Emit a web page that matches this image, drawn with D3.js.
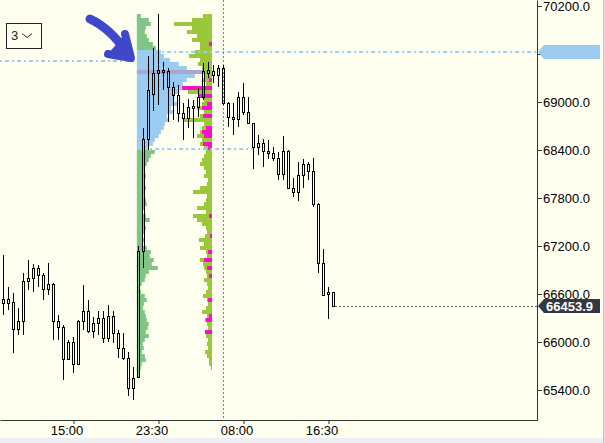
<!DOCTYPE html>
<html>
<head>
<meta charset="utf-8">
<script src="https://cdn.jsdelivr.net/npm/d3@7"></script>
<style>
html, body { margin: 0; padding: 0; background: #FFFFF0; overflow: hidden; }
svg { display: block; font-family: "Liberation Sans", Arial, sans-serif; }
</style>
</head>
<body>
<svg id="chart" width="605" height="443"></svg>
<script>
// bars, 30 minutes each, first one starts at 07:30
var firstBar = new Date(2024, 2, 20, 7, 30);
var barMinutes = 30;
var opens = [65925, 66487.5, 66537.5, 66500, 66162.5, 66262.5, 66762.5, 66800, 66925, 66837.5,
    66662.5, 66725, 66262.5, 66187.5, 65787.5, 66000, 65725, 66262.5, 66387.5, 66137.5,
    66237.5, 66300, 66050, 66325, 66112.5, 65925, 65800, 65425, 65562.5, 67137.5,
    68537.5, 69100, 69362.5, 69400, 69387.5, 69187.5, 69087.5, 68862.5, 68800, 68925,
    68937.5, 69062.5, 69362.5, 69387.5, 69337.5, 69425, 68987.5, 68812.5, 68787.5, 69062.5,
    68875, 68737.5, 68437.5, 68487.5, 68387.5, 68362.5, 68300, 68100, 68387.5, 67925,
    67875, 68087.5, 68225, 68137.5, 67725, 66987.5, 66600, 66625];
var highs = [66775, 67087.5, 66687.5, 66612.5, 66425, 66862.5, 67025, 66975, 66962.5, 66862.5,
    66987.5, 66737.5, 66337.5, 66212.5, 66025, 66062.5, 66275, 66712.5, 66525, 66312.5,
    66387.5, 66387.5, 66462.5, 66387.5, 66150, 66112.5, 65875, 65687.5, 67200, 68675,
    69575, 69675, 70100, 69500, 69425, 69250, 69212.5, 68987.5, 69037.5, 69025,
    69175, 69487.5, 69500, 69462.5, 69462.5, 69462.5, 69000, 68987.5, 69125, 69237.5,
    69062.5, 68737.5, 68587.5, 68537.5, 68525, 68437.5, 68375, 68575, 68400, 68050,
    68250, 68287.5, 68250, 68300, 67737.5, 67162.5, 66687.5, 66625];
var lows = [65900, 66337.5, 66400, 65862.5, 66087.5, 66087.5, 66650, 66625, 66687.5, 66525,
    66587.5, 66025, 66025, 65525, 65775, 65612.5, 65712.5, 66150, 66112.5, 66050,
    66087.5, 65987.5, 66000, 65987.5, 65800, 65775, 65325, 65275, 65550, 66925,
    68400, 68887.5, 68962.5, 69150, 68750, 68775, 68750, 68525, 68675, 68550,
    68812.5, 69025, 69300, 69237.5, 69187.5, 68962.5, 68687.5, 68587.5, 68687.5, 68837.5,
    68737.5, 68162.5, 68337.5, 68187.5, 68287.5, 68262.5, 68025, 68025, 67925, 67812.5,
    67762.5, 67925, 68025, 67687.5, 66862.5, 66587.5, 66287.5, 66437.5];
var closes = [66487.5, 66537.5, 66487.5, 66162.5, 66262.5, 66762.5, 66800, 66925, 66837.5, 66662.5,
    66725, 66262.5, 66187.5, 65787.5, 66000, 65725, 66262.5, 66387.5, 66137.5, 66237.5,
    66300, 66050, 66325, 66112.5, 65925, 65800, 65425, 65550, 67137.5, 68537.5,
    69150, 69362.5, 69400, 69375, 69187.5, 69087.5, 68862.5, 68800, 68937.5, 68950,
    69062.5, 69387.5, 69400, 69337.5, 69425, 68987.5, 68812.5, 68787.5, 69062.5, 68875,
    68737.5, 68437.5, 68487.5, 68387.5, 68362.5, 68300, 68100, 68387.5, 67925, 67875,
    68087.5, 68225, 68137.5, 67725, 66987.5, 66587.5, 66625, 66453.9];
var lastPrice = 66453.9;

// volume profiles, rows of 50 points from 70100 down
var rowTop = 70100;
var rowStep = 50;
var profile1Vol = [4, 12, 14, 9, 8, 10, 12, 16, 19, 24,
    27, 33, 42, 50, 74, 58, 50, 46, 45, 42,
    38, 36, 40, 34, 36, 30, 32, 28, 27, 24,
    22, 18, 16, 12, 18, 14, 12, 10, 8, 7,
    9, 8, 7, 9, 8, 7, 9, 10, 8, 6,
    9, 13, 8, 9, 7, 6, 8, 6, 10, 14,
    13, 17, 15, 21, 12, 9, 8, 5, 3, 4,
    8, 10, 7, 6, 8, 9, 10, 12, 11, 9,
    12, 8, 6, 7, 5, 8, 9, 5, 4, 3, 2, 0];
var profile2Vol = [9, 20, 38, 20, 25, 15, 20, 12, 12, 17,
    23, 12, 14, 10, 8, 7, 10, 6, 30, 24,
    14, 8, 10, 15, 8, 12, 28, 8, 10, 12,
    15, 10, 12, 8, 6, 8, 10, 12, 8, 6,
    8, 4, 5, 12, 19, 5, 6, 8, 15, 6,
    19, 15, 10, 6, 5, 7, 13, 8, 12, 6,
    5, 12, 9, 8, 6, 5, 8, 5, 4, 6,
    9, 5, 4, 6, 10, 5, 7, 5, 4, 7,
    6, 4, 5, 4, 7, 5, 3, 3, 1, 0, 0, 0];
var profile2Sell = [0, 0, 0, 0, 0, 0, 0, 3, 0, 0,
    0, 0, 0, 0, 0, 0, 3, 0, 30, 0,
    14, 0, 5, 10, 0, 9, 0, 0, 6, 10,
    8, 0, 9, 4, 0, 0, 0, 0, 0, 0,
    0, 0, 0, 0, 0, 0, 0, 0, 0, 0,
    3, 0, 0, 0, 0, 2, 0, 0, 0, 4,
    0, 8, 0, 5, 0, 3, 0, 0, 0, 0,
    0, 4, 0, 0, 0, 3, 6, 0, 0, 7,
    0, 0, 0, 0, 0, 0, 0, 0, 0, 0, 0, 0];
var valueArea = [68400, 69650];
var pocPrice = 69400;
var profile1Start = new Date(2024, 2, 20, 21, 20);
var profile2End = new Date(2024, 2, 21, 4, 51);

// horizontal levels
var prevHighLevel = 69512.5;
var vahLevel = 69625;
var valLevel = 68412.5;
var levelStart = new Date(2024, 2, 20, 22, 40);
var valEnd = new Date(2024, 2, 21, 9, 0);
var sessionTime = new Date(2024, 2, 21, 6, 0);

// axes
var timeTicks = [new Date(2024, 2, 20, 15, 0), new Date(2024, 2, 20, 23, 30),
    new Date(2024, 2, 21, 8, 0), new Date(2024, 2, 21, 16, 30)];
var priceTicks = [65400, 66000, 66600, 67200, 67800, 68400, 69000, 69600, 70200];

var attrs = { width: 605, height: 443, plotW: 537, plotH: 420 };

var bars = opens.map(function (o, i) {
    return {
        t: new Date(firstBar.getTime() + i * barMinutes * 60000),
        o: o, h: highs[i], l: lows[i], c: closes[i]
    };
});
var levels = profile1Vol.map(function (v, i) { return rowTop - i * rowStep; });

var x = d3.scaleTime()
    .domain([new Date(2024, 2, 20, 7, 39), new Date(2024, 2, 22, 13, 21)])
    .range([0, attrs.plotW]);
var y = d3.scaleLinear()
    .domain([65025, 70275])
    .range([attrs.plotH, 0]);
var w = d3.scaleLinear()
    .domain([0, 74])
    .range([0, 74]);

var svg = d3.select("#chart");
svg.append("rect")
    .attr("width", attrs.width)
    .attr("height", attrs.height)
    .attr("fill", "#FFFFF0");
svg.append("rect")
    .attr("y", 438)
    .attr("width", attrs.width)
    .attr("height", 5)
    .attr("fill", "#EDEFF5");
svg.append("line")
    .attr("x1", 603.5).attr("x2", 603.5)
    .attr("y1", 0).attr("y2", attrs.height)
    .attr("stroke", "#A9C3E6");
svg.append("rect")
    .attr("x", 604)
    .attr("width", 1)
    .attr("height", attrs.height)
    .attr("fill", "#E4E8EF");

svg.append("clipPath").attr("id", "plotClip")
    .append("rect")
    .attr("width", attrs.plotW)
    .attr("height", attrs.plotH);
var plot = svg.append("g").attr("clip-path", "url(#plotClip)");

//profile 1, anchored left
var p1x = x(profile1Start);
plot.append("g").selectAll("rect")
    .data(levels)
    .enter()
    .append("rect")
    .attr("x", p1x)
    .attr("y", function (d) { return y(d); })
    .attr("width", function (d, i) { return w(profile1Vol[i]); })
    .attr("height", function (d) { return y(d - rowStep) - y(d); })
    .attr("fill", function (d) {
        if (d === pocPrice) return "#ABA6CF";
        return (d <= valueArea[1] && d - rowStep >= valueArea[0]) ? "#99CCF0" : "#80C585";
    });

//profile 2, anchored right
var p2x = x(profile2End);
var p2 = plot.append("g");
p2.selectAll("rect.vol")
    .data(levels)
    .enter()
    .append("rect")
    .attr("class", "vol")
    .attr("x", function (d, i) { return p2x - w(profile2Vol[i]); })
    .attr("y", function (d) { return y(d); })
    .attr("width", function (d, i) { return w(profile2Vol[i]); })
    .attr("height", function (d) { return y(d - rowStep) - y(d); })
    .attr("fill", "#9BC83B");
p2.selectAll("rect.sell")
    .data(levels)
    .enter()
    .append("rect")
    .attr("class", "sell")
    .attr("x", function (d, i) { return p2x - w(profile2Sell[i]); })
    .attr("y", function (d) { return y(d); })
    .attr("width", function (d, i) { return w(profile2Sell[i]); })
    .attr("height", function (d) { return y(d - rowStep) - y(d); })
    .attr("fill", "#FF10C8");

//levels
var levelLine = function (v, t0, t1) {
    plot.append("line")
        .attr("x1", x(t0)).attr("x2", x(t1))
        .attr("y1", Math.round(y(v))).attr("y2", Math.round(y(v)))
        .attr("stroke", "#9BCDF0")
        .attr("stroke-width", 2)
        .attr("stroke-dasharray", "2,3,4,3");
};
levelLine(prevHighLevel, x.domain()[0], profile1Start);
levelLine(vahLevel, levelStart, x.domain()[1]);
levelLine(valLevel, levelStart, valEnd);

plot.append("line")
    .attr("x1", Math.floor(x(sessionTime)) + 0.5).attr("x2", Math.floor(x(sessionTime)) + 0.5)
    .attr("y1", 0).attr("y2", attrs.plotH)
    .attr("stroke", "#5A7ED4")
    .attr("stroke-dasharray", "2,2");

//candles
var candle = plot.append("g").selectAll("g")
    .data(bars)
    .enter()
    .append("g");
candle.append("path")
    .attr("d", function (d) {
        var cx = Math.floor(x(d.t)) + 0.5;
        var top = Math.round(y(Math.max(d.o, d.c)));
        var bot = Math.max(Math.round(y(Math.min(d.o, d.c))), top + 1);
        return "M" + cx + "," + Math.round(y(d.h)) + "V" + top + "M" + cx + "," + bot + "V" + Math.round(y(d.l));
    })
    .attr("stroke", "#000")
    .attr("fill", "none");
candle.append("rect")
    .attr("x", function (d) { return Math.floor(x(d.t)) - 0.5; })
    .attr("y", function (d) { return Math.round(y(Math.max(d.o, d.c))) + 0.5; })
    .attr("width", 2)
    .attr("height", function (d) {
        var top = Math.round(y(Math.max(d.o, d.c)));
        return Math.max(Math.round(y(Math.min(d.o, d.c))) - top, 1);
    })
    .attr("stroke", "#000")
    .attr("fill", "none");

plot.append("line")
    .attr("x1", Math.floor(x(bars[bars.length - 1].t)) + 2)
    .attr("x2", attrs.plotW)
    .attr("y1", Math.round(y(lastPrice)) + 0.5).attr("y2", Math.round(y(lastPrice)) + 0.5)
    .attr("stroke", "#555")
    .attr("stroke-dasharray", "2,2");

//axes
var yAxis = svg.append("g")
    .attr("transform", "translate(" + attrs.plotW + ",0)")
    .call(d3.axisRight(y)
        .tickValues(priceTicks)
        .tickFormat(d3.format(".1f"))
        .tickSize(5)
        .tickSizeOuter(0)
        .tickPadding(1));
var xAxis = svg.append("g")
    .attr("transform", "translate(0," + attrs.plotH + ")")
    .call(d3.axisBottom(x)
        .tickValues(timeTicks)
        .tickFormat(d3.timeFormat("%H:%M"))
        .tickSize(4)
        .tickSizeOuter(0)
        .tickPadding(2));
[yAxis, xAxis].forEach(function (a) {
    a.attr("font-family", "Liberation Sans, Arial, sans-serif")
        .attr("font-size", 13);
    a.selectAll("path, line").attr("stroke", "#333");
    a.selectAll("text").attr("fill", "#000");
});
xAxis.selectAll("text").attr("dx", -7);

//price markers
var marker = function (v, fill, half) {
    var my = Math.round(y(v));
    svg.append("path")
        .attr("d", "M" + (attrs.plotW + 1) + "," + my + "L" + (attrs.plotW + 7) + "," + (my - half) +
            "H600V" + (my + half) + "H" + (attrs.plotW + 7) + "Z")
        .attr("fill", fill);
    return my;
};
marker(vahLevel, "#99CCF0", 7);
var ly = marker(lastPrice, "#333844", 7);
svg.append("text")
    .attr("x", 546)
    .attr("y", ly + 5)
    .attr("font-size", 13)
    .attr("font-weight", "bold")
    .attr("fill", "#fff")
    .text(d3.format(".1f")(lastPrice));

//period selector box
svg.append("rect")
    .attr("x", 6.5).attr("y", 23.5)
    .attr("width", 35).attr("height", 25)
    .attr("fill", "none")
    .attr("stroke", "#222");
svg.append("text")
    .attr("x", 11).attr("y", 40)
    .attr("font-size", 13)
    .attr("fill", "#222")
    .text("3");
svg.append("path")
    .attr("d", "M22,33.5L27,37.5L32,33.5")
    .attr("fill", "none")
    .attr("stroke", "#333");

//hand drawn arrow
var arrowColor = "#3F47CB";
svg.append("path")
    .attr("d", "M90,19Q110,28 128,54")
    .attr("fill", "none")
    .attr("stroke", arrowColor)
    .attr("stroke-width", 9)
    .attr("stroke-linecap", "round");
svg.append("path")
    .attr("d", "M108,54L131,58L125,34")
    .attr("fill", arrowColor)
    .attr("stroke", arrowColor)
    .attr("stroke-width", 8)
    .attr("stroke-linecap", "round")
    .attr("stroke-linejoin", "round");
</script>
</body>
</html>
